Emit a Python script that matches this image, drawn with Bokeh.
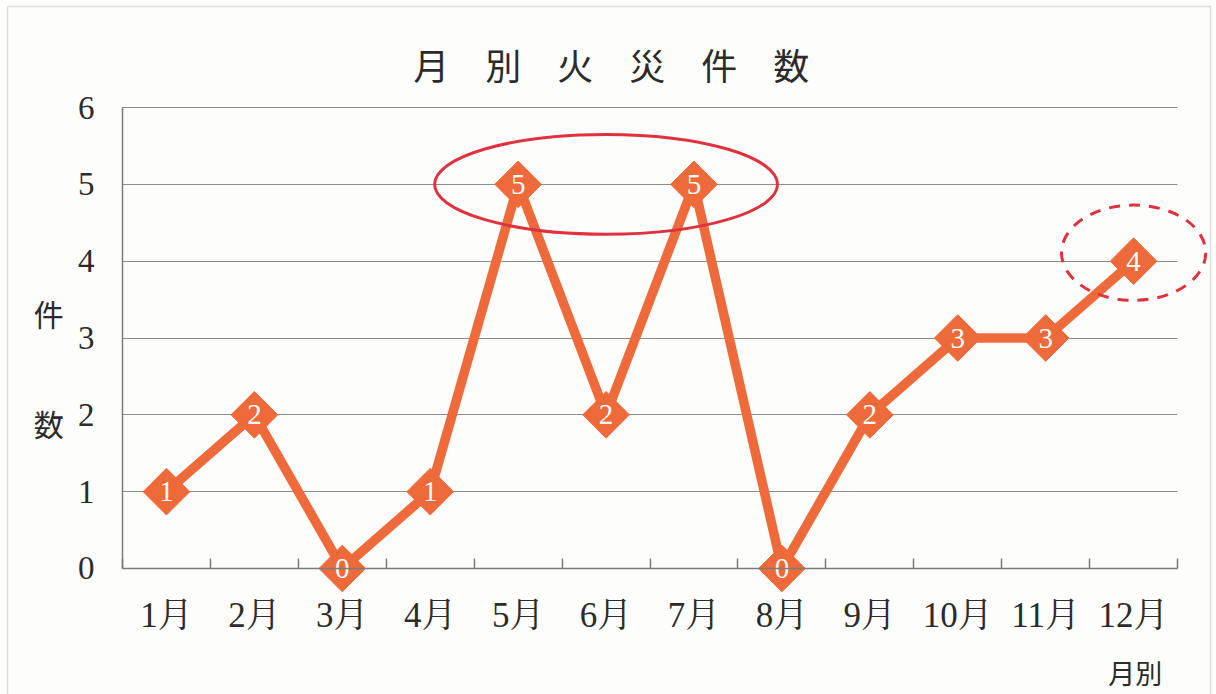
import math

from bokeh.core.properties import value
from bokeh.embed import file_html
from bokeh.models import BoxAnnotation, FixedTicker, Label, Range1d
from bokeh.plotting import figure
from bokeh.resources import INLINE

# --- data -------------------------------------------------------------
months = list(range(1, 13))
month_labels = ["1月", "2月", "3月", "4月", "5月", "6月",
                "7月", "8月", "9月", "10月", "11月", "12月"]
fires = [1, 2, 0, 1, 5, 2, 5, 0, 2, 3, 3, 4]
y_ticks = [0, 1, 2, 3, 4, 5, 6]

title_text = "月\u3000別\u3000火\u3000災\u3000件\u3000数"
y_label_chars = ["件", "数"]
x_label_text = "月別"

# --- styles -----------------------------------------------------------
BG = "#FDFDFB"
ORANGE = "#EF6A3A"
RED = "#E0323E"
AXIS = "#7A7A7A"
GRID = "#8C8C8C"
INK = "#2B2B2B"
SERIF = "'Liberation Serif', 'Noto Serif CJK JP', 'Noto Sans CJK JP', serif"
CJK = "Noto Sans CJK JP"

# The frame fills the whole canvas; the axes sit at fixed data locations
# so that markers, rings and captions outside the plotting box are not clipped.
p = figure(
    width=1216, height=694,
    x_range=Range1d(-0.8876, 12.943), y_range=Range1d(-1.640, 7.393),
    output_backend="svg", toolbar_location=None,
    min_border=0, min_border_left=0, min_border_right=0,
    min_border_top=0, min_border_bottom=0,
    background_fill_color=BG, border_fill_color=BG,
)
p.outline_line_color = None

# x axis: month labels at centres, small inward ticks between months
xa = p.xaxis[0]
xa.ticker = FixedTicker(ticks=months,
                        minor_ticks=[m - 0.5 for m in months] + [months[-1] + 0.5])
xa.fixed_location = 0
xa.bounds = (0.5, 12.5)
xa.major_label_overrides = {m: lab for m, lab in zip(months, month_labels)}
xa.major_tick_line_color = None
xa.minor_tick_in = 10
xa.minor_tick_out = 0
xa.minor_tick_line_color = AXIS
xa.minor_tick_line_width = 1.5
xa.axis_line_color = AXIS
xa.axis_line_width = 1.5
xa.major_label_standoff = 22
xa.major_label_text_font = SERIF
xa.major_label_text_font_size = "35px"
xa.major_label_text_color = INK

# y axis
ya = p.yaxis[0]
ya.ticker = FixedTicker(ticks=y_ticks)
ya.fixed_location = 0.5
ya.bounds = (0, 6)
ya.major_tick_in = 0
ya.major_tick_out = 0
ya.minor_tick_line_color = None
ya.axis_line_color = AXIS
ya.axis_line_width = 1.5
ya.major_label_standoff = 28
ya.major_label_text_font = SERIF
ya.major_label_text_font_size = "33px"
ya.major_label_text_color = INK

p.xgrid.visible = False
p.ygrid.grid_line_color = GRID
p.ygrid.grid_line_width = 1.2
p.ygrid.cross_bounds = (0.5, 12.5)

# series: thick line, diamond markers, value labels inside
p.line(months, fires, line_color=ORANGE, line_width=9.5, line_join="round")
p.scatter(months, fires, marker="square", size=33, angle=math.pi / 4,
          fill_color=ORANGE, line_color=ORANGE)
p.text(months, fires, text=[str(v) for v in fires], text_color="white",
       text_font=value("Liberation Serif"), text_font_size="29px",
       text_align="center", text_baseline="middle")

# highlight rings: the two peaks and the year-end rise
p.ellipse(x=[6], y=[5], width=3.9, height=1.3, fill_color=None,
          line_color=RED, line_width=3)
p.ellipse(x=[12], y=[4.11], width=1.64, height=1.24, fill_color=None,
          line_color=RED, line_width=3, line_dash="11 9")

# title and axis captions
p.add_layout(Label(x=6.06, y=6.56, text=title_text, text_align="center",
                   text_baseline="middle", text_font=CJK,
                   text_font_size="36px", text_color=INK))
for ch, yy in zip(y_label_chars, [3.33, 1.90]):
    p.add_layout(Label(x=-0.34, y=yy, text=ch, text_align="center",
                       text_baseline="middle", text_font=CJK,
                       text_font_size="30px", text_color=INK))
p.add_layout(Label(x=12.02, y=-1.36, text=x_label_text, text_align="center",
                   text_baseline="middle", text_font=CJK,
                   text_font_size="27px", text_color=INK))

# page frame
p.add_layout(BoxAnnotation(left=-0.808, right=12.875, top=7.315, bottom=-3,
                           fill_color=None, line_color="#9A9A9A",
                           line_width=1.5))

open("out.html", "w").write(file_html(p, INLINE, "月別火災件数"))
